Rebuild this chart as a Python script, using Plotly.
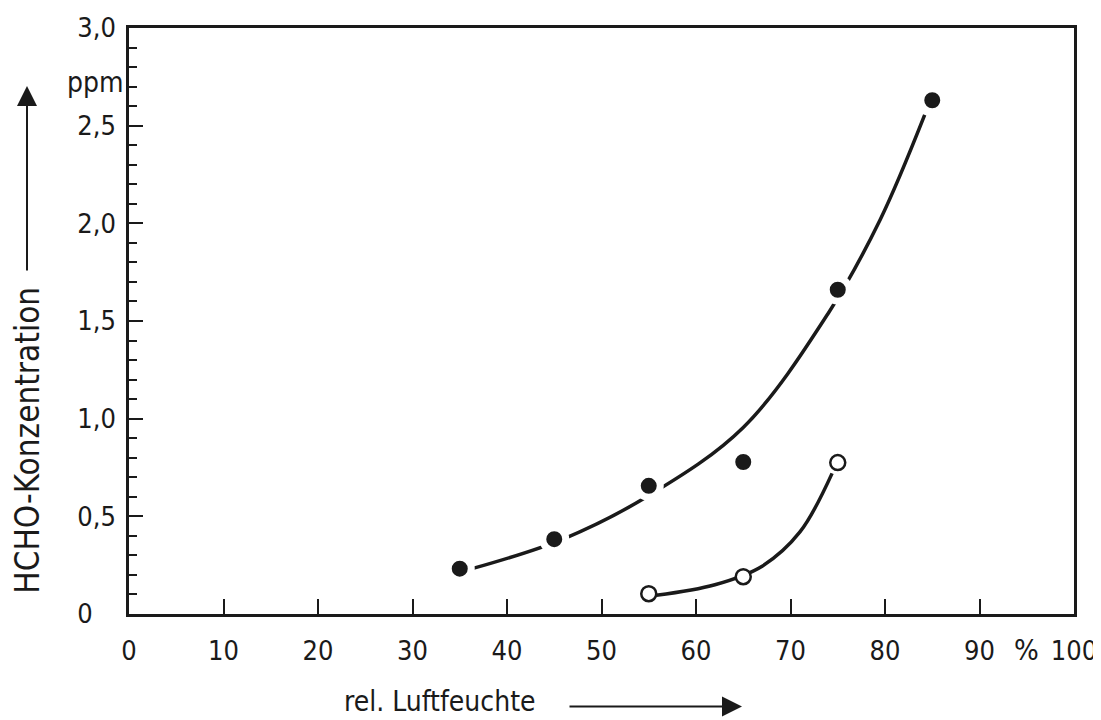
import plotly.graph_objects as go

# measured points (filled dots)
x_filled = [35, 45, 55, 65, 75, 85]
y_filled = [0.232, 0.383, 0.656, 0.778, 1.66, 2.63]
# measured points (open dots)
x_open = [55, 65, 75]
y_open = [0.104, 0.191, 0.775]

# drawn curves
x_curve_up = [36.3, 46.0, 55.1, 65.0, 74.0, 79.5, 84.2]
y_curve_up = [0.232, 0.385, 0.609, 0.955, 1.54, 2.02, 2.555]
x_curve_lo = [55.8, 62.0, 67.0, 71.0, 74.4]
y_curve_lo = [0.096, 0.15, 0.245, 0.42, 0.72]

x_ticks = [0, 10, 20, 30, 40, 50, 60, 70, 80, 90, 100]
x_ticklabels = ["0", "10", "20", "30", "40", "50", "60", "70", "80", "90", "100"]
y_ticks = [0, 0.5, 1.0, 1.5, 2.0, 2.5, 3.0]
y_ticklabels = ["0\u2008\u2007", "0,5", "1,0", "1,5", "2,0", "2,5", "3,0"]

x_title = "rel. Luftfeuchte"
y_title = "HCHO-Konzentration"
y_unit = "ppm"
x_unit = "%"

FONT = "Liberation Sans Narrow, DejaVu Sans Condensed, Roboto, sans-serif"
INK = "#1a1a1a"

fig = go.Figure()
fig.add_trace(go.Scatter(x=x_curve_up, y=y_curve_up, mode="lines",
                         line=dict(color=INK, width=3.5, shape="spline", smoothing=1.0),
                         hoverinfo="skip", showlegend=False))
fig.add_trace(go.Scatter(x=x_curve_lo, y=y_curve_lo, mode="lines",
                         line=dict(color=INK, width=3.5, shape="spline", smoothing=1.0),
                         hoverinfo="skip", showlegend=False))
fig.add_trace(go.Scatter(x=x_filled, y=y_filled, mode="markers",
                         marker=dict(size=23, color=INK, line=dict(color="white", width=7)),
                         showlegend=False))
fig.add_trace(go.Scatter(x=x_open, y=y_open, mode="markers",
                         marker=dict(size=15, color="white", line=dict(color=INK, width=2.5)),
                         showlegend=False))

# page body has an 8px margin: figure starts at (8, 8)
OFF = 8
W, H = 1101 - OFF, 720 - OFF
PL, PR, PT, PB = 129, 1074, 28, 614.5   # target plot-area edges in window pixels
L, R, T, B = PL - OFF, OFF + W - PR, PT - OFF, OFF + H - PB
pw, ph = PR - PL, PB - PT


def px(xp):
    return (xp - PL) / pw


def py(yp):
    return (PB - yp) / ph


ann = []
ann.append(dict(text=y_unit, xref="paper", yref="y", x=0, y=2.72, xanchor="right",
                yanchor="middle", xshift=-3, showarrow=False,
                font=dict(family=FONT, size=28, color=INK)))
ann.append(dict(text=x_unit, xref="x", yref="paper", x=95, y=py(651), xanchor="center",
                yanchor="middle", showarrow=False,
                font=dict(family=FONT, size=29, color=INK)))
ann.append(dict(text=x_title, xref="paper", yref="paper", x=px(440), y=py(702),
                xanchor="center", yanchor="middle", showarrow=False,
                font=dict(family=FONT, size=28, color=INK)))
ann.append(dict(text=y_title, xref="paper", yref="paper", x=px(28), y=py(441),
                xanchor="center", yanchor="middle", textangle=-90, showarrow=False,
                font=dict(family=FONT, size=33, color=INK)))
# axis arrows
ann.append(dict(text="", xref="paper", yref="paper", x=px(742), y=py(707),
                ax=-174, ay=0, showarrow=True, arrowhead=2, arrowsize=2.0,
                arrowwidth=2, arrowcolor=INK))
ann.append(dict(text="", xref="paper", yref="paper", x=px(27), y=py(86),
                ax=0, ay=186, showarrow=True, arrowhead=2, arrowsize=2.0,
                arrowwidth=2, arrowcolor=INK))

fig.update_layout(
    width=W, height=H,
    margin=dict(l=L, r=R, t=T, b=B, pad=0, autoexpand=False),
    paper_bgcolor="white", plot_bgcolor="white",
    font=dict(family=FONT, size=27, color=INK),
    annotations=ann,
    xaxis=dict(range=[0, 100], tickvals=x_ticks, ticktext=x_ticklabels,
               ticks="inside", ticklen=15, tickwidth=2, tickcolor=INK,
               showline=True, linewidth=2.5, linecolor=INK, mirror=True,
               showgrid=False, zeroline=False, ticklabelstandoff=11, automargin=False,
               tickfont=dict(family=FONT, size=27, color=INK)),
    yaxis=dict(range=[0, 3], tickvals=y_ticks, ticktext=y_ticklabels,
               ticks="inside", ticklen=14, tickwidth=2, tickcolor=INK,
               minor=dict(ticks="inside", ticklen=8, tickwidth=2, dtick=0.1, tickcolor=INK,
                          showgrid=False),
               showline=True, linewidth=2.5, linecolor=INK, mirror=True,
               showgrid=False, zeroline=False, ticklabelstandoff=5, automargin=False,
               tickfont=dict(family=FONT, size=27, color=INK)),
)

fig.write_html("out.html")
